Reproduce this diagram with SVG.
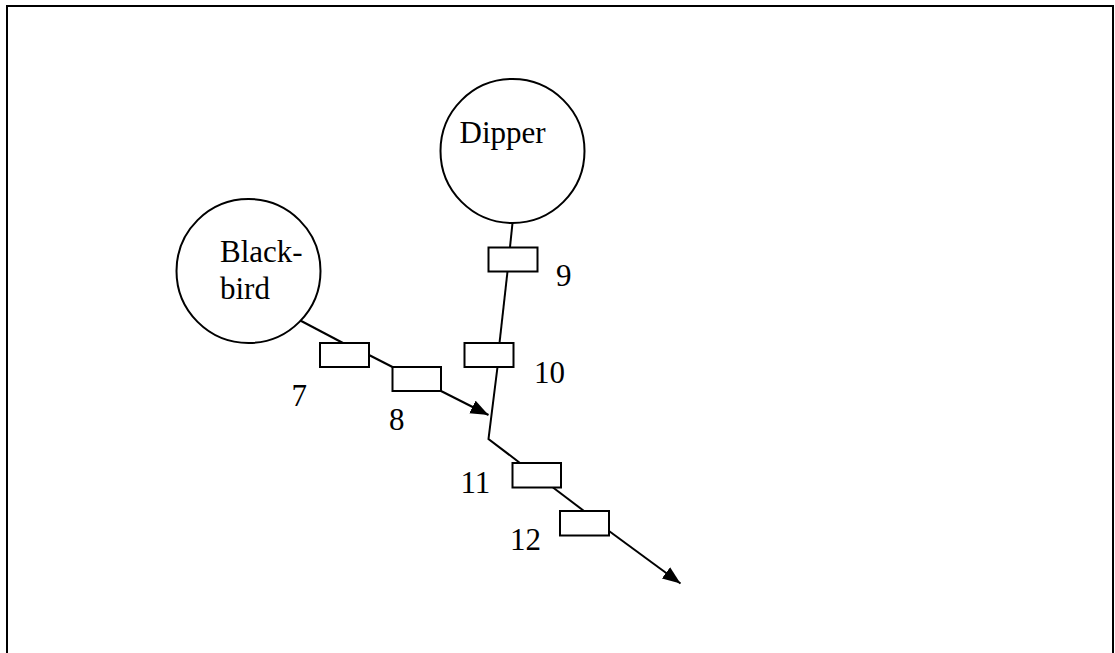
<svg xmlns="http://www.w3.org/2000/svg" width="1115" height="653" viewBox="0 0 1115 653">
<defs>
<style>
.frame{fill:none;stroke:#000;stroke-width:2}
.node{fill:#fff;stroke:#000;stroke-width:2}
.box{fill:#fff;stroke:#000;stroke-width:2}
.con{fill:none;stroke:#000;stroke-width:2}
.lbl{font-family:"Liberation Serif","Times New Roman",serif;font-size:31px;fill:#000}
.nlbl{font-family:"Liberation Serif","Times New Roman",serif;font-size:31px;fill:#000}
</style>
<marker id="ah" markerUnits="userSpaceOnUse" markerWidth="19" markerHeight="15" refX="18" refY="7" orient="auto">
<path d="M0,0 L18,7 L0,14 z" fill="#000"/>
</marker>
</defs>
<rect width="1115" height="653" fill="#fff"/>
<path class="frame" d="M7,653 V6 H1113 V653"/>
<g id="connectors">
<polyline class="con" points="296.5,318.5 343,343"/>
<polyline class="con" points="369,355 392.5,367"/>
<polyline class="con" points="441,391 488.5,415" marker-end="url(#ah)"/>
<polyline class="con" points="512.5,223 510,247"/>
<polyline class="con" points="507.5,271.5 499.5,343"/>
<polyline class="con" points="497.5,367 488.5,439 520,463"/>
<polyline class="con" points="553,487.5 584,511"/>
<polyline class="con" points="609,531 680.5,583.5" marker-end="url(#ah)"/>
</g>
<g id="blackbird">
<circle class="node" cx="248.5" cy="271" r="72"/>
<text class="nlbl" x="220" y="262">Black-</text>
<text class="nlbl" x="220" y="299">bird</text>
</g>
<g id="dipper">
<circle class="node" cx="512.5" cy="151" r="72"/>
<text class="nlbl" x="459.5" y="142.5">Dipper</text>
</g>
<g id="box7"><rect class="box" x="320" y="343" width="49" height="24"/><text class="lbl" x="291.5" y="406">7</text></g>
<g id="box8"><rect class="box" x="392.5" y="367" width="48.5" height="24"/><text class="lbl" x="389" y="430">8</text></g>
<g id="box9"><rect class="box" x="488.5" y="247.5" width="49" height="24"/><text class="lbl" x="556" y="285.5">9</text></g>
<g id="box10"><rect class="box" x="464.5" y="343" width="49" height="24"/><text class="lbl" x="534" y="382.5">10</text></g>
<g id="box11"><rect class="box" x="512.5" y="463" width="48.5" height="24.5"/><text class="lbl" x="460.5" y="492.5">11</text></g>
<g id="box12"><rect class="box" x="560" y="511" width="49" height="24.5"/><text class="lbl" x="510" y="550">12</text></g>
</svg>
